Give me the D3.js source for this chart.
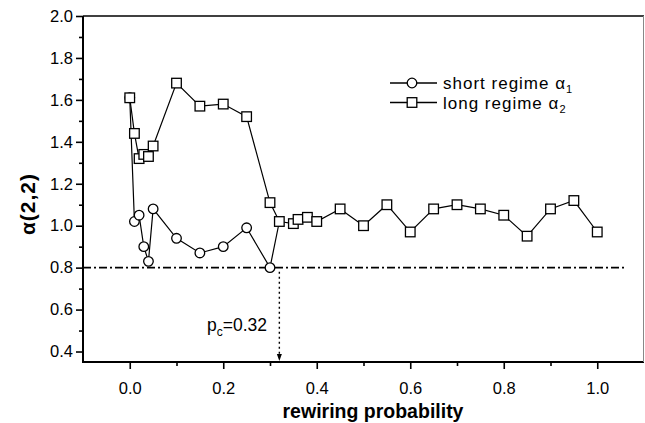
<!DOCTYPE html>
<html>
<head>
<meta charset="utf-8">
<script src="https://cdn.jsdelivr.net/npm/d3@7"></script>
<style>
  html, body { margin: 0; padding: 0; background: #fff; }
  svg { display: block; }
  text { font-family: "Liberation Sans", Arial, Helvetica, sans-serif; fill: #000; }
</style>
</head>
<body>
<svg id="chart" width="645" height="423"></svg>
<script>
// Short regime exponent alpha_1 versus rewiring probability
const pShort = [0, 0.01, 0.02, 0.03, 0.04, 0.05, 0.10, 0.15, 0.20, 0.25, 0.30];
const alphaShort = [1.61, 1.02, 1.05, 0.90, 0.83, 1.08, 0.94, 0.87, 0.90, 0.99, 0.80];

// Long regime exponent alpha_2
const pLong = [0, 0.01, 0.02, 0.03, 0.04, 0.05, 0.10, 0.15, 0.20, 0.25, 0.30];
const alphaLong = [1.61, 1.44, 1.32, 1.34, 1.33, 1.38, 1.68, 1.57, 1.58, 1.52, 1.11];

// Above the crossover both regimes coincide
const pMerged = [0.32, 0.35, 0.36, 0.38, 0.40, 0.45, 0.50, 0.55, 0.60, 0.65, 0.70, 0.75, 0.80, 0.85, 0.90, 0.95, 1.00];
const alphaMerged = [1.02, 1.01, 1.03, 1.04, 1.02, 1.08, 1.00, 1.10, 0.97, 1.08, 1.10, 1.08, 1.05, 0.95, 1.08, 1.12, 0.97];

// Crossover
const pc = 0.32;
const alphaC = 0.80;

// Axis ticks
const xMajor = [0.0, 0.2, 0.4, 0.6, 0.8, 1.0];
const xMinor = [0.1, 0.3, 0.5, 0.7, 0.9];
const yMajor = [0.4, 0.6, 0.8, 1.0, 1.2, 1.4, 1.6, 1.8, 2.0];
const yMinor = [0.5, 0.7, 0.9, 1.1, 1.3, 1.5, 1.7, 1.9];

const legendLabels = [
  { name: "short regime α", sub: "1", shape: "circle" },
  { name: "long regime α", sub: "2", shape: "square" }
];

const svg = d3.select("#chart");
const W = 645, H = 423;
const margin = { left: 83, right: 1, top: 16, bottom: 61 };

const x = d3.scaleLinear().domain([-0.1, 1.1]).range([margin.left, W - margin.right]);
const y = d3.scaleLinear().domain([0.35, 2.0]).range([H - margin.bottom, margin.top]);

const fmt = d3.format(".1f");

// Axes: labelled major ticks plus shorter minor ticks
const gx = svg.append("g").attr("transform", `translate(0,${y(0.35)})`);
gx.call(d3.axisBottom(x).tickValues(xMajor).tickSize(7).tickPadding(13).tickFormat(fmt));
gx.append("g").call(d3.axisBottom(x).tickValues(xMinor).tickSize(4).tickFormat(""));

const gy = svg.append("g").attr("transform", `translate(${x(-0.1)},0)`);
gy.call(d3.axisLeft(y).tickValues(yMajor).tickSize(7).tickPadding(3).tickFormat(fmt));
gy.append("g").call(d3.axisLeft(y).tickValues(yMinor).tickSize(4).tickFormat(""));

svg.selectAll(".domain").remove();
svg.selectAll(".tick line").attr("stroke", "#000").attr("stroke-width", 1.6);
svg.selectAll(".tick text").style("font-size", "16.5px").attr("fill", "#000");

// Frame
const [x0, x1] = x.range();
const [yb, yt] = y.range();
svg.append("line").attr("x1", x0).attr("x2", x0).attr("y1", yt).attr("y2", yb + 1)
  .attr("stroke", "#000").attr("stroke-width", 2);
svg.append("line").attr("x1", x0 - 1).attr("x2", x1).attr("y1", yb).attr("y2", yb)
  .attr("stroke", "#000").attr("stroke-width", 2);
svg.append("line").attr("x1", x0).attr("x2", x1).attr("y1", yt).attr("y2", yt)
  .attr("stroke", "#000").attr("stroke-width", 1.4);
svg.append("line").attr("x1", x1 - 0.5).attr("x2", x1 - 0.5).attr("y1", yt).attr("y2", yb)
  .attr("stroke", "#888").attr("stroke-width", 1);

// Threshold line (dash-dot)
svg.append("line")
  .attr("x1", x(-0.1)).attr("x2", x(1.06))
  .attr("y1", y(alphaC)).attr("y2", y(alphaC))
  .attr("stroke", "#000").attr("stroke-width", 1.6)
  .attr("stroke-dasharray", "8,3,2,3");

// Dotted arrow down to p_c on the axis
const ax = x(pc);
svg.append("line")
  .attr("x1", ax).attr("x2", ax)
  .attr("y1", y(alphaC) + 4).attr("y2", yb - 6)
  .attr("stroke", "#000").attr("stroke-width", 1.4)
  .attr("stroke-dasharray", "2,3");
svg.append("path")
  .attr("d", `M${ax - 2.5},${yb - 8} L${ax + 2.5},${yb - 8} L${ax},${yb - 1} Z`)
  .attr("fill", "#000");

// p_c label
const pcText = svg.append("text")
  .attr("x", 207).attr("y", 331)
  .style("font-size", "17.5px");
pcText.append("tspan").text("p");
pcText.append("tspan").attr("dy", 5).style("font-size", "12px").text("c");
pcText.append("tspan").attr("dy", -5).text("=" + pc.toFixed(2));

// Series
const shortPts = pShort.map((p, i) => [p, alphaShort[i]]);
const longPts = pLong.map((p, i) => [p, alphaLong[i]]);
const mergedPts = pMerged.map((p, i) => [p, alphaMerged[i]]);

const line = d3.line().x(d => x(d[0])).y(d => y(d[1]));

svg.append("path").datum(shortPts.concat([mergedPts[0]]))
  .attr("d", line).attr("fill", "none").attr("stroke", "#000").attr("stroke-width", 1.2);
svg.append("path").datum(longPts.concat(mergedPts))
  .attr("d", line).attr("fill", "none").attr("stroke", "#000").attr("stroke-width", 1.2);

const r = 4.8, s = 9.6;
svg.append("g").selectAll("circle").data(shortPts).join("circle")
  .attr("cx", d => x(d[0])).attr("cy", d => y(d[1])).attr("r", r)
  .attr("fill", "#fff").attr("stroke", "#000").attr("stroke-width", 1.3);

svg.append("g").selectAll("rect").data(longPts.concat(mergedPts)).join("rect")
  .attr("x", d => x(d[0]) - s / 2).attr("y", d => y(d[1]) - s / 2)
  .attr("width", s).attr("height", s)
  .attr("fill", "#fff").attr("stroke", "#000").attr("stroke-width", 1.3);

// Legend
const lg = svg.append("g");
legendLabels.forEach((d, i) => {
  const ly = 83 + i * 19.5;
  lg.append("line").attr("x1", 390).attr("x2", 437).attr("y1", ly).attr("y2", ly)
    .attr("stroke", "#000").attr("stroke-width", 1.3);
  if (d.shape === "circle") {
    lg.append("circle").attr("cx", 412).attr("cy", ly).attr("r", r)
      .attr("fill", "#fff").attr("stroke", "#000").attr("stroke-width", 1.3);
  } else {
    lg.append("rect").attr("x", 412 - s / 2).attr("y", ly - s / 2).attr("width", s).attr("height", s)
      .attr("fill", "#fff").attr("stroke", "#000").attr("stroke-width", 1.3);
  }
  const t = lg.append("text").attr("x", 443).attr("y", ly + 6)
    .style("font-size", "17px").style("letter-spacing", "1px");
  t.append("tspan").text(d.name);
  t.append("tspan").attr("dy", 4).style("font-size", "11px").text(d.sub);
});

// Axis titles
svg.append("text")
  .attr("x", 373).attr("y", 418)
  .attr("text-anchor", "middle")
  .style("font-size", "19.5px").style("font-weight", "bold")
  .text("rewiring probability");

svg.append("text")
  .attr("transform", `translate(35,204) rotate(-90)`)
  .attr("text-anchor", "middle")
  .style("font-size", "21px").style("font-weight", "bold")
  .style("letter-spacing", "1px")
  .text("α(2,2)");
</script>
</body>
</html>
